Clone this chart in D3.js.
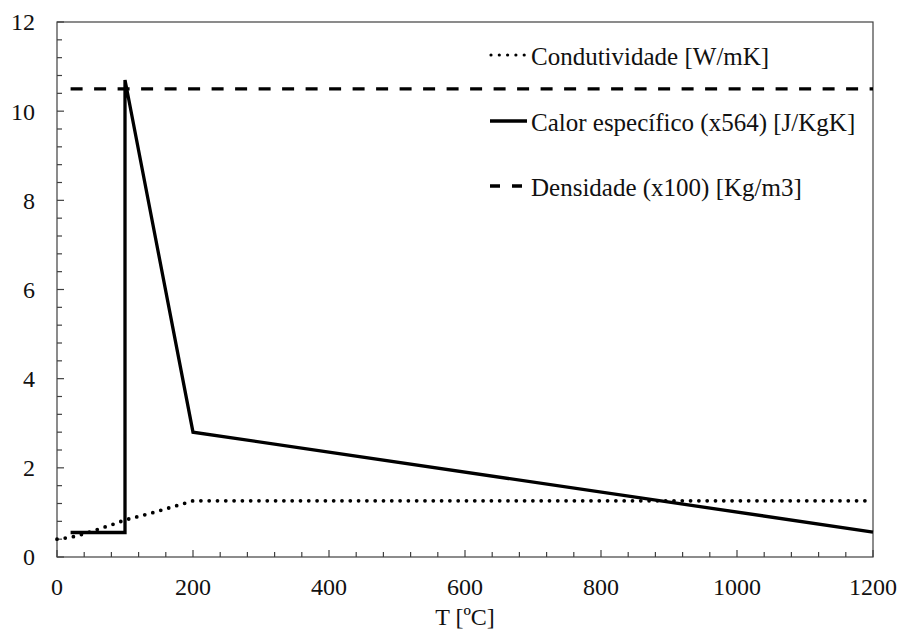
<!DOCTYPE html>
<html>
<head>
<meta charset="utf-8">
<script src="https://cdn.jsdelivr.net/npm/d3@7"></script>
<style>
  html, body { margin: 0; padding: 0; background: #fff; }
  svg text { font-family: "Liberation Serif", "Times New Roman", Times, "DejaVu Serif", serif; }
</style>
</head>
<body>
<svg id="chart" width="899" height="631"></svg>
<script>
// Thermal properties versus temperature
const tempCond = [0, 20, 40, 60, 80, 100, 120, 140, 160, 180, 200, 1200];
const condutividade = [0.40, 0.44, 0.52, 0.62, 0.72, 0.83, 0.91, 0.99, 1.08, 1.17, 1.26, 1.26];

const tempCalor = [20, 100, 100, 200, 1200];
const calorEspecifico = [0.55, 0.55, 10.7, 2.8, 0.56];

const tempDens = [20, 1200];
const densidade = [10.5, 10.5];

const xTicks = [0, 200, 400, 600, 800, 1000, 1200];
const yTicks = [0, 2, 4, 6, 8, 10, 12];

const legendLabels = [
  "Condutividade [W/mK]",
  "Calor específico (x564) [J/KgK]",
  "Densidade (x100) [Kg/m3]"
];

const serif = '"Liberation Serif", "Times New Roman", Times, "DejaVu Serif", serif';
const svg = d3.select("#chart");
const margin = { left: 57, top: 22, right: 26, bottom: 74 };
const W = 899, H = 631;
const x = d3.scaleLinear().domain([0, 1200]).range([margin.left, W - margin.right]);
const y = d3.scaleLinear().domain([0, 12]).range([H - margin.bottom, margin.top]);

const axisColor = "#404040";
const fontSize = 24;

// frame
svg.append("rect")
  .attr("x", x(0)).attr("y", y(12))
  .attr("width", x(1200) - x(0)).attr("height", y(0) - y(12))
  .attr("fill", "none").attr("stroke", axisColor).attr("stroke-width", 1.2);

// minor + major ticks pointing inward
const xMinor = d3.range(0, 1201, 40);
const yMinor = d3.range(0, 12.01, 0.4);
const ticksG = svg.append("g").attr("stroke", axisColor).attr("stroke-width", 1.2);
xMinor.forEach(v => {
  const major = xTicks.some(t => Math.abs(t - v) < 1e-6);
  ticksG.append("line")
    .attr("x1", x(v)).attr("x2", x(v))
    .attr("y1", y(0)).attr("y2", y(0) - (major ? 7 : 5));
});
yMinor.forEach(v => {
  const major = yTicks.some(t => Math.abs(t - v) < 1e-6);
  ticksG.append("line")
    .attr("y1", y(v)).attr("y2", y(v))
    .attr("x1", x(0)).attr("x2", x(0) + (major ? 7 : 5));
});

// tick labels
svg.append("g").selectAll("text").data(xTicks).join("text")
  .attr("x", d => x(d)).attr("y", y(0) + 38)
  .attr("text-anchor", "middle")
  .attr("font-family", serif)
  .attr("font-size", fontSize).attr("fill", "#111")
  .text(d => d);
svg.append("g").selectAll("text").data(yTicks).join("text")
  .attr("x", 35).attr("y", d => y(d))
  .attr("dy", "0.35em")
  .attr("text-anchor", "end")
  .attr("font-family", serif)
  .attr("font-size", fontSize).attr("fill", "#111")
  .text(d => d);

// axis title
svg.append("text")
  .attr("x", (x(0) + x(1200)) / 2).attr("y", 625)
  .attr("text-anchor", "middle")
  .attr("font-family", serif)
  .attr("font-size", fontSize).attr("fill", "#111")
  .text("T [ºC]");

const line = d3.line().x(d => x(d[0])).y(d => y(d[1]));

const styles = [
  { dash: "0 8.3", cap: "round", width: 3.8 },
  { dash: null, cap: "butt", width: 3.3 },
  { dash: "12 11.5", cap: "butt", width: 3.4 }
];

const series = [
  d3.zip(tempCond, condutividade),
  d3.zip(tempCalor, calorEspecifico),
  d3.zip(tempDens, densidade)
];

series.forEach((pts, i) => {
  svg.append("path")
    .attr("d", line(pts))
    .attr("fill", "none")
    .attr("stroke", "#000")
    .attr("stroke-width", styles[i].width)
    .attr("stroke-linecap", styles[i].cap)
    .attr("stroke-linejoin", "miter")
    .attr("stroke-miterlimit", 4)
    .attr("stroke-dasharray", styles[i].dash);
});

// legend
const legendRows = [55, 121, 186];
const lg = svg.append("g");
legendLabels.forEach((lab, i) => {
  const yy = legendRows[i];
  lg.append("line")
    .attr("x1", i === 0 ? 491 : 490).attr("x2", i === 0 ? 525 : 527)
    .attr("y1", yy).attr("y2", yy)
    .attr("stroke", "#000")
    .attr("stroke-width", i === 0 ? 3.2 : styles[i].width)
    .attr("stroke-linecap", styles[i].cap)
    .attr("stroke-dasharray", i === 0 ? "0 8.3" : (i === 2 ? "10 12" : null));
  lg.append("text")
    .attr("x", 531).attr("y", yy + 10)
    .attr("font-family", serif)
    .attr("font-size", 25).attr("fill", "#111")
    .text(lab);
});
</script>
</body>
</html>
